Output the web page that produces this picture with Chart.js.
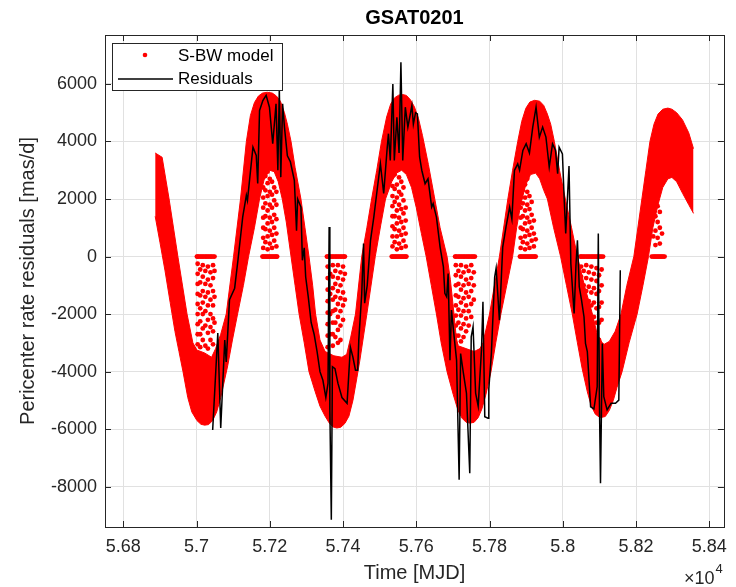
<!DOCTYPE html>
<html><head><meta charset="utf-8">
<script src="https://cdn.jsdelivr.net/npm/chart.js@4.4.1/dist/chart.umd.min.js"></script>
<style>html,body{margin:0;padding:0;background:#fff;}canvas{display:block;}</style>
</head><body>
<canvas id="c" width="736" height="587"></canvas>
<script>
const chartTitle = 'GSAT0201';
const xAxisTitle = 'Time [MJD]';
const yAxisTitle = 'Pericenter rate residuals [mas/d]';
const xExponent = '4';
const legendLabels = ['S-BW model', 'Residuals'];
const xTickValues = [56800, 57000, 57200, 57400, 57600, 57800, 58000, 58200, 58400];
const yTickValues = [-8000, -6000, -4000, -2000, 0, 2000, 4000, 6000];
const xLimits = [56750, 58440];
const yLimits = [-9400, 7700];

// S-BW model: upper and lower edge of the dense band of model points [MJD, mas/d]
const modelUpper = [[56887,3600],[56906,3450],[56925,2000],[56949,0],[56974,-2000],[56990,-3000],[57001,-3250],[57022,-3350],[57041,-3500],[57052,-3200],[57066,-2700],[57081,-2000],[57101,0],[57120,2000],[57136,4000],[57147,4900],[57158,5350],[57169,5580],[57180,5680],[57193,5710],[57207,5680],[57218,5580],[57229,5400],[57240,5000],[57248,4600],[57258,4000],[57269,3100],[57285,2000],[57296,1000],[57307,0],[57317,-1000],[57325,-2000],[57337,-2900],[57351,-3300],[57375,-3450],[57397,-3500],[57410,-3400],[57421,-2800],[57434,-2000],[57451,0],[57465,1000],[57478,2000],[57492,3000],[57505,4000],[57519,4850],[57530,5300],[57541,5520],[57552,5610],[57563,5630],[57573,5600],[57584,5450],[57595,5200],[57606,4800],[57617,4200],[57633,3200],[57649,2100],[57665,1000],[57684,0],[57693,-800],[57703,-2000],[57709,-2800],[57714,-3100],[57736,-3200],[57758,-3300],[57774,-3200],[57782,-3000],[57800,-2000],[57827,0],[57850,2000],[57863,3000],[57877,4000],[57888,4700],[57899,5150],[57910,5370],[57923,5430],[57937,5400],[57948,5250],[57958,4950],[57967,4600],[57977,4000],[57991,3000],[58007,2000],[58024,1000],[58040,0],[58059,-1000],[58081,-2000],[58094,-2700],[58108,-3000],[58113,-3050],[58127,-2950],[58143,-2600],[58159,-2000],[58175,-1000],[58194,0],[58216,2000],[58227,3000],[58238,4000],[58249,4600],[58260,4950],[58273,5120],[58287,5160],[58298,5120],[58311,5000],[58327,4750],[58344,4300],[58357,3750]];
const modelLower = [[56887,1400],[56900,500],[56914,-500],[56928,-1600],[56941,-2600],[56952,-3300],[56963,-4000],[56976,-4900],[56987,-5400],[57001,-5700],[57012,-5830],[57022,-5860],[57033,-5840],[57044,-5700],[57055,-5400],[57066,-4900],[57085,-3800],[57098,-2900],[57112,-2000],[57128,-1000],[57142,0],[57158,1000],[57172,2000],[57185,2700],[57199,3000],[57212,2950],[57223,2600],[57234,2000],[57245,1200],[57258,0],[57269,-1000],[57280,-2000],[57294,-3000],[57307,-4000],[57324,-4700],[57337,-5200],[57351,-5550],[57362,-5780],[57372,-5920],[57383,-5960],[57394,-5930],[57405,-5800],[57416,-5550],[57427,-5000],[57438,-4200],[57446,-3600],[57465,-2000],[57488,0],[57503,1100],[57516,2000],[57533,2600],[57546,2900],[57560,3000],[57573,2850],[57587,2400],[57600,1700],[57614,800],[57627,0],[57641,-1000],[57655,-2000],[57668,-3000],[57684,-4000],[57701,-4800],[57714,-5350],[57725,-5620],[57736,-5760],[57747,-5790],[57758,-5760],[57769,-5600],[57779,-5300],[57790,-4800],[57804,-4000],[57817,-3000],[57831,-2000],[57847,-1000],[57863,0],[57874,1000],[57885,1800],[57899,2500],[57912,2850],[57926,2900],[57937,2700],[57948,2300],[57958,2000],[57975,1000],[57994,0],[58010,-1000],[58026,-2000],[58040,-3000],[58053,-3900],[58067,-4700],[58078,-5200],[58089,-5480],[58102,-5600],[58116,-5560],[58127,-5350],[58138,-5000],[58148,-4550],[58162,-4000],[58181,-3000],[58203,-2000],[58219,-1000],[58234,0],[58246,1000],[58260,1800],[58273,2400],[58287,2700],[58298,2750],[58311,2600],[58327,2200],[58344,1800],[58357,1500]];

// S-BW model: scattered points near the extremes, one column per entry: [MJD, y1, y2, ...]
const dotsTrough1 = [[57001,0],[57003,0,-250,-600,-950,-1300,-1650,-2000,-2350,-2700,-3050],[57006,0],[57010,0,-450,-900,-1350,-1800,-2250,-2700,-3150],[57013,0],[57017,0,-300,-700,-1200,-1600,-2000,-2500,-2900],[57020,0],[57024,0,-500,-950,-1400,-1900,-2400,-3100],[57027,0],[57031,0,-350,-800,-1250,-1700,-2200,-2650,-3200],[57034,0],[57038,0,-550,-1000,-1500,-2000,-2450,-2900],[57041,0],[57045,0,-300,-750,-1200,-1700,-2150,-2600,-3050],[57049,0,-500,-1400,-2300]];
const dotsPeak1 = [[57180,0],[57182,0,300,650,1000,1350,1700,2050,2400,2750],[57185,0],[57188,0,500,950,1400,1850,2300,2800],[57191,0],[57194,0,250,700,1150,1600,2100,2550,2950],[57197,0],[57200,0,450,900,1350,1800,2250,2700],[57203,0],[57206,0,300,750,1200,1700,2150,2600],[57209,0],[57212,0,550,1000,1450,1950,2400],[57215,0],[57218,0,350,800,1300,1800,2250],[57220,0]];
const dotsTrough2 = [[57356,0],[57358,0,-350,-750,-1150,-1550,-1950,-2350,-2750,-3150],[57361,0],[57365,0,-600,-1300,-2000,-2700],[57368,0],[57372,0,-300,-700,-1100,-1500,-1900,-2300,-2700,-3100],[57375,0],[57379,0,-500,-950,-1400,-1850,-2300,-2800],[57382,0],[57386,0,-300,-750,-1200,-1650,-2100,-2550,-3000],[57389,0],[57393,0,-550,-1000,-1450,-1900,-2400,-2900],[57396,0],[57400,0,-350,-800,-1250,-1700,-2200],[57403,0],[57405,0,-600,-1500]];
const dotsPeak2 = [[57533,0],[57535,0,350,700,1050,1400,1750,2100,2450,2800],[57538,0],[57541,0,500,950,1400,1900,2350,2850],[57544,0],[57547,0,250,700,1150,1600,2050,2500],[57550,0],[57553,0,450,900,1350,1800,2250,2750],[57556,0],[57559,0,300,750,1200,1650,2150,2600],[57562,0],[57565,0,550,1000,1500,1950,2400],[57568,0],[57571,0,350,800,1250,1700],[57573,0]];
const dotsTrough3 = [[57706,0],[57708,0,-300,-650,-1000,-1350,-1700,-2050,-2400,-2750,-3050],[57711,0],[57715,0,-500,-950,-1400,-1850,-2300,-2750],[57718,0],[57722,0,-300,-700,-1150,-1600,-2050,-2500,-2950],[57725,0],[57729,0,-550,-1000,-1450,-1900,-2350,-2800],[57732,0],[57736,0,-350,-800,-1250,-1700,-2150,-2600],[57739,0],[57743,0,-500,-950,-1400,-1900,-2400],[57746,0],[57750,0,-300,-750,-1200,-1650,-2100],[57753,0],[57757,0,-550,-1000,-1500],[57760,0]];
const dotsPeak3 = [[57883,0],[57885,0,300,650,1000,1350,1700,2050,2400,2750],[57888,0],[57891,0,500,950,1400,1850,2300,2800],[57894,0],[57897,0,250,700,1150,1600,2050,2500],[57900,0],[57903,0,450,900,1350,1800,2250,2700],[57906,0],[57909,0,300,750,1200,1650,2100],[57912,0],[57915,0,550,1000,1450,1900],[57918,0],[57921,0,350,800,1250],[57924,0],[57926,0,600]];
const dotsTrough4 = [[58048,0],[58050,0,-350,-700,-1050,-1400,-1750,-2100],[58053,0],[58057,0,-500,-1000,-1500,-2000],[58060,0],[58064,0,-300,-750,-1200,-1650,-2100],[58067,0],[58071,0,-550,-1050,-1550,-2050],[58074,0],[58078,0,-350,-800,-1250,-1700,-2200,-2700],[58081,0],[58085,0,-600,-1100,-1600,-2100,-2600],[58088,0],[58092,0,-400,-850,-1300,-1800,-2300,-2800],[58095,0],[58099,0,-650,-1200,-1750,-2300,-2900],[58102,0],[58106,0,-450,-1000,-1600,-2200],[58110,0]];
const dotsPeak4 = [[58243,0],[58247,0,700,1400],[58250,0],[58253,0,400,900,1400,1900,2400],[58256,0],[58259,0,650,1200,1750,2300],[58262,0],[58265,0,450,1000,1550],[58268,0],[58271,0,800],[58274,0],[58278,0]];

// Residuals [MJD, mas/d]
const residuals = [[57044,-6030],[57058,-2660],[57066,-5960],[57077,-2900],[57081,-3660],[57090,-1500],[57104,-1100],[57113,-130],[57126,1370],[57136,2130],[57139,1950],[57154,3800],[57163,3515],[57167,2540],[57172,5075],[57181,5420],[57190,5600],[57199,5190],[57208,3920],[57217,5310],[57222,3000],[57226,5840],[57230,2760],[57235,5310],[57240,4500],[57248,3500],[57256,3300],[57267,2650],[57273,900],[57276,2000],[57285,1720],[57289,-130],[57294,300],[57298,-710],[57305,-1400],[57313,-2300],[57321,-2700],[57329,-3300],[57337,-4000],[57345,-4300],[57353,-4900],[57359,-4400],[57362,1030],[57364,-5300],[57368,-9150],[57371,-3830],[57378,-3900],[57386,-4400],[57397,-4900],[57411,-5100],[57420,-3150],[57427,-3500],[57434,-3950],[57440,-3950],[57443,-2900],[57451,-1300],[57456,450],[57459,-1620],[57466,-1000],[57475,565],[57484,1370],[57492,2200],[57502,3230],[57511,2190],[57520,3690],[57524,4270],[57529,3340],[57536,6000],[57540,3340],[57547,4840],[57553,3600],[57558,6750],[57563,3340],[57570,5190],[57577,4500],[57588,5250],[57592,4600],[57598,5000],[57603,4960],[57609,3460],[57615,3000],[57624,2530],[57632,2700],[57642,1720],[57646,1840],[57655,1370],[57665,330],[57674,-360],[57678,-1280],[57683,-1400],[57687,-590],[57692,-3600],[57696,-1860],[57701,-2500],[57710,-3600],[57717,-7760],[57721,-3370],[57728,-4000],[57737,-4750],[57746,-7530],[57750,-2790],[57755,-2440],[57762,-4750],[57769,-5200],[57778,-3250],[57782,-1570],[57787,-5570],[57796,-5620],[57798,-4600],[57805,-3370],[57814,-710],[57818,-400],[57827,-2210],[57836,330],[57845,1030],[57855,1720],[57861,1300],[57868,2990],[57877,3220],[57882,3000],[57891,3690],[57900,3920],[57909,3600],[57918,4500],[57927,5190],[57936,4150],[57945,4500],[57954,4150],[57963,3110],[57972,3920],[57980,3700],[57986,2880],[57990,3800],[57999,3570],[58004,1950],[58008,800],[58017,3150],[58022,-240],[58031,-1980],[58036,-300],[58040,565],[58045,-1050],[58051,-1500],[58058,-2100],[58062,-3020],[58067,-3300],[58076,-5220],[58085,-5300],[58094,-4520],[58097,800],[58100,-5000],[58103,-7880],[58108,-3020],[58112,-4870],[58121,-5330],[58132,-5100],[58144,-5100],[58153,-4990],[58157,-475]];

const toXY = arr => arr.map(p => ({x: p[0], y: p[1]}));
const columnsToXY = cols => cols.flatMap(c => c.slice(1).map(v => ({x: c[0], y: v})));
const modelDots = [dotsTrough1, dotsPeak1, dotsTrough2, dotsPeak2, dotsTrough3, dotsPeak3, dotsTrough4, dotsPeak4].flatMap(columnsToXY);

const TXT = '#262626';
const FONT = '"Liberation Sans", Arial, Helvetica, sans-serif';
const RED = '#ff0000';

const framePlugin = {
  id: 'frame',
  afterDraw(chart) {
    const {ctx, chartArea: a, scales: {x, y}} = chart;
    ctx.save();
    ctx.strokeStyle = TXT; ctx.lineWidth = 1;
    const tl = 6;
    ctx.beginPath();
    x.ticks.forEach(t => {
      const px = Math.round(x.getPixelForValue(t.value)) + 0.5;
      ctx.moveTo(px, a.bottom); ctx.lineTo(px, a.bottom - tl);
      ctx.moveTo(px, a.top); ctx.lineTo(px, a.top + tl);
    });
    y.ticks.forEach(t => {
      const py = Math.round(y.getPixelForValue(t.value)) + 0.5;
      ctx.moveTo(a.left, py); ctx.lineTo(a.left + tl, py);
      ctx.moveTo(a.right, py); ctx.lineTo(a.right - tl, py);
    });
    ctx.stroke();
    ctx.strokeRect(Math.round(a.left) + 0.5, Math.round(a.top) + 0.5, Math.round(a.right - a.left), Math.round(a.bottom - a.top));

    // title
    ctx.fillStyle = '#000';
    ctx.font = 'bold 20px ' + FONT;
    ctx.textAlign = 'center'; ctx.textBaseline = 'middle';
    ctx.fillText(chartTitle, (a.left + a.right) / 2, 18);

    // x exponent
    ctx.fillStyle = TXT;
    ctx.textAlign = 'left'; ctx.textBaseline = 'middle';
    ctx.font = '18px ' + FONT;
    const base = '\u00d710';
    ctx.fillText(base, 684, 579);
    const w = ctx.measureText(base).width;
    ctx.font = '13px ' + FONT;
    ctx.fillText(xExponent, 684 + w + 1, 569);

    // legend
    const lx = 112, ly = 43, lw = 170, lh = 47;
    ctx.fillStyle = '#fff';
    ctx.fillRect(lx, ly, lw, lh);
    ctx.strokeStyle = TXT; ctx.lineWidth = 1;
    ctx.strokeRect(lx + 0.5, ly + 0.5, lw, lh);
    ctx.fillStyle = RED;
    ctx.beginPath(); ctx.arc(145, 55, 2.3, 0, Math.PI * 2); ctx.fill();
    ctx.strokeStyle = '#000'; ctx.lineWidth = 1.5;
    ctx.beginPath(); ctx.moveTo(118, 79); ctx.lineTo(173, 79); ctx.stroke();
    ctx.fillStyle = '#000';
    ctx.font = '17px ' + FONT;
    ctx.textAlign = 'left'; ctx.textBaseline = 'middle';
    ctx.fillText(legendLabels[0], 178, 56);
    ctx.fillText(legendLabels[1], 178, 79);
    ctx.restore();
  }
};

new Chart(document.getElementById('c'), {
  type: 'line',
  data: {
    datasets: [
      {label: legendLabels[1], data: toXY(residuals), borderColor: '#000', borderWidth: 1.5, pointRadius: 0, fill: false, tension: 0, order: 0},
      {label: legendLabels[0], data: modelDots, showLine: false, pointRadius: 2.4, pointBorderWidth: 0, pointBackgroundColor: RED, pointBorderColor: RED, order: 1},
      {label: 'model upper', data: toXY(modelUpper), borderColor: RED, backgroundColor: RED, borderWidth: 1, pointRadius: 0, fill: '+1', tension: 0, order: 2},
      {label: 'model lower', data: toXY(modelLower), borderColor: RED, borderWidth: 1, pointRadius: 0, fill: false, tension: 0, order: 2}
    ]
  },
  options: {
    responsive: false,
    devicePixelRatio: 1,
    animation: false,
    events: [],
    layout: {padding: {top: 35, right: 9, left: 0, bottom: 0}},
    plugins: {legend: {display: false}, title: {display: false}, tooltip: {enabled: false}},
    scales: {
      x: {
        type: 'linear', min: xLimits[0], max: xLimits[1],
        afterBuildTicks: s => { s.ticks = xTickValues.map(v => ({value: v})); },
        afterFit: s => { s.height = 60; },
        grid: {color: '#e1e1e1', drawTicks: false},
        border: {display: false},
        ticks: {padding: 9, color: TXT, font: {family: FONT, size: 18}, maxRotation: 0,
          callback: v => String(parseFloat((v / 1e4).toFixed(2)))},
        title: {display: true, text: xAxisTitle, color: TXT, font: {family: FONT, size: 20}, padding: {top: 0, bottom: 2}}
      },
      y: {
        type: 'linear', min: yLimits[0], max: yLimits[1],
        afterBuildTicks: s => { s.ticks = yTickValues.map(v => ({value: v})); },
        afterFit: s => { s.width = 105; },
        grid: {color: '#e1e1e1', drawTicks: false},
        border: {display: false},
        ticks: {padding: 8, color: TXT, font: {family: FONT, size: 18}, callback: v => String(v)},
        title: {display: true, text: yAxisTitle, color: TXT, font: {family: FONT, size: 20}, padding: {top: 16, bottom: 0}}
      }
    }
  },
  plugins: [framePlugin]
});
</script>
</body></html>
